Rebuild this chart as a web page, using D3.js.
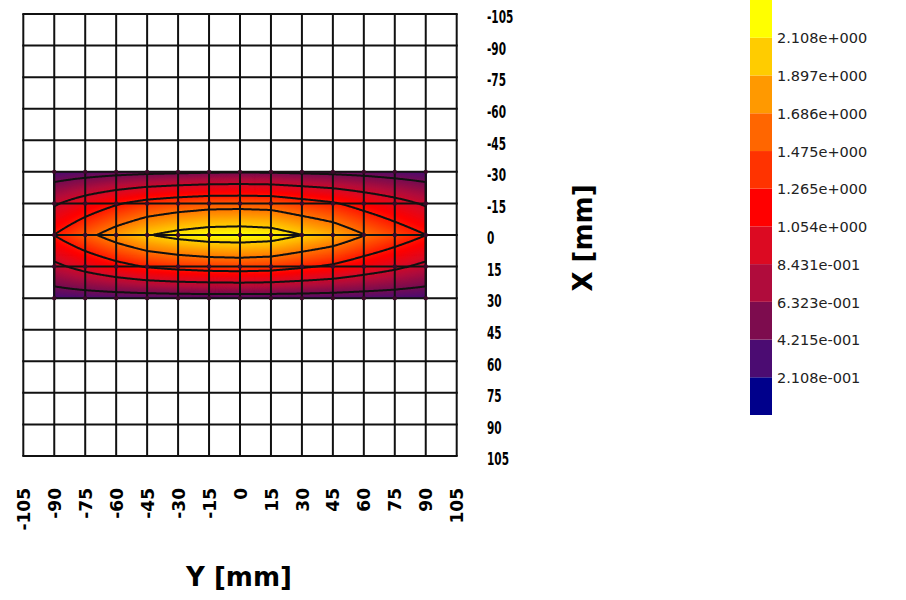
<!DOCTYPE html>
<html><head><meta charset="utf-8">
<script src="https://cdn.jsdelivr.net/npm/d3@7/dist/d3.min.js"></script>
<style>body{margin:0;background:#fff} svg{display:block}</style>
</head><body>
<svg id="chart" width="906" height="600"></svg>
<script>
// ---- data ----
const axisTicks = [-105,-90,-75,-60,-45,-30,-15,0,15,30,45,60,75,90,105];
const axisTickLabels = ["-105","-90","-75","-60","-45","-30","-15","0","15","30","45","60","75","90","105"];
const nodeY = [-90,-75,-60,-45,-30,-15,0,15,30,45,60,75,90];   // horizontal axis "Y [mm]"
const nodeX = [-30,-15,0,15,30];                                // vertical axis "X [mm]"
const rowXm30 = [0.24,0.28,0.32,0.35,0.37,0.39,0.40,0.39,0.37,0.35,0.32,0.28,0.24];
const rowXm15 = [0.80,1.03,1.23,1.39,1.48,1.54,1.55,1.53,1.41,1.30,1.13,0.97,0.80];
const rowX0   = [1.27,1.58,1.86,2.09,2.22,2.30,2.32,2.28,2.11,1.95,1.70,1.48,1.27];
const rowX15  = [0.76,0.96,1.14,1.29,1.37,1.42,1.44,1.41,1.31,1.21,1.05,0.91,0.76];
const rowX30  = [0.22,0.24,0.25,0.26,0.27,0.27,0.27,0.27,0.27,0.26,0.25,0.24,0.22];
const cbValues = [0.2108,0.4215,0.6323,0.8431,1.054,1.265,1.475,1.686,1.897,2.108];
const cbLabels = ["2.108e-001","4.215e-001","6.323e-001","8.431e-001","1.054e+000","1.265e+000","1.475e+000","1.686e+000","1.897e+000","2.108e+000"];
const cbMin = 0, cbMax = 2.319;
const cbColors = ["#00008b","#4b0c72","#7d0c4e","#b00c3c","#dc0a22","#ff0000","#ff3300","#ff6600","#ff9900","#ffcc00","#ffff00"];
const contourLevels = [0.4215,0.8431,1.265,1.686,2.108];

// ---- layout ----
const svg = d3.select("#chart");
const x = d3.scaleLinear().domain([-105,105]).range([23.3,456.7]);
const y = d3.scaleLinear().domain([-105,105]).range([14,456]);
const rows = [rowXm30,rowXm15,rowX0,rowX15,rowX30];

function field(Y, X){
  const dY = nodeY[1]-nodeY[0], dX = nodeX[1]-nodeX[0];
  let fi = (Y-nodeY[0])/dY, fj = (X-nodeX[0])/dX;
  let i = Math.max(0, Math.min(nodeY.length-2, Math.floor(fi)));
  let j = Math.max(0, Math.min(nodeX.length-2, Math.floor(fj)));
  const tx = fi-i, ty = fj-j;
  return rows[j][i]*(1-tx)*(1-ty) + rows[j][i+1]*tx*(1-ty) + rows[j+1][i]*(1-tx)*ty + rows[j+1][i+1]*tx*ty;
}

const x0 = x(nodeY[0]), x1 = x(nodeY[nodeY.length-1]);
const y0 = y(nodeX[0]), y1 = y(nodeX[nodeX.length-1]);
const nx = Math.round(x1-x0), ny = Math.round(y1-y0);
const grid = new Array(nx*ny);
for (let j=0;j<ny;j++){
  const X = y.invert(y0 + (j+0.5)*(y1-y0)/ny);
  for (let i=0;i<nx;i++){
    const Y = x.invert(x0 + (i+0.5)*(x1-x0)/nx);
    grid[j*nx+i] = field(Y, X);
  }
}
const proj = d3.geoPath(d3.geoTransform({point(px,py){
  this.stream.point(x0 + px*(x1-x0)/nx, y0 + py*(y1-y0)/ny);
}}));

const color = d3.scaleLinear()
  .domain(cbColors.map((c,k)=>cbMin + k*(cbMax-cbMin)/(cbColors.length-1)))
  .range(cbColors).clamp(true);

const bandStep = 0.012;
const bandThr = d3.range(-0.1, 2.5, bandStep);
svg.append("g").selectAll("path")
  .data(d3.contours().size([nx,ny]).thresholds(bandThr)(grid))
  .join("path")
  .attr("d", proj)
  .attr("fill", d=>color(d.value+bandStep/2))
  .attr("stroke", d=>color(d.value+bandStep/2))
  .attr("stroke-width", 0.4);

svg.append("g").selectAll("path")
  .data(d3.contours().size([nx,ny]).thresholds(contourLevels)(grid))
  .join("path")
  .attr("d", proj)
  .attr("fill","none").attr("stroke","#111").attr("stroke-width",2)
  .attr("stroke-linejoin","round");

// grid
const gg = svg.append("g").attr("stroke","#111").attr("stroke-width",2);
gg.selectAll("line.v").data(axisTicks).join("line")
  .attr("x1",d=>x(d)).attr("x2",d=>x(d)).attr("y1",y(-105)).attr("y2",y(105));
gg.selectAll("line.h").data(axisTicks).join("line")
  .attr("y1",d=>y(d)).attr("y2",d=>y(d)).attr("x1",x(-105)-1).attr("x2",x(105)+1);

// data nodes
const nodes = [];
nodeX.forEach(X=>nodeY.forEach(Y=>nodes.push([Y,X])));
svg.append("g").selectAll("circle").data(nodes).join("circle")
  .attr("cx",d=>x(d[0])).attr("cy",d=>y(d[1])).attr("r",2.2).attr("fill","#3a0a28");

// right axis (X)
const fmt = d=>axisTickLabels[axisTicks.indexOf(d)];
const ra = svg.append("g").attr("transform","translate(487,0)")
  .call(d3.axisRight(y).tickValues(axisTicks).tickFormat(fmt).tickSize(0).tickPadding(0));
ra.select(".domain").remove();
ra.selectAll("text").attr("x",0).attr("dy","0.52em").attr("transform","scale(0.62,1)")
  .style("font-family","DejaVu Sans").style("font-weight","bold").style("font-size","17px").attr("fill","#000");

// bottom axis (Y)
const ba = svg.append("g").attr("transform","translate(0,488)")
  .call(d3.axisBottom(x).tickValues(axisTicks).tickFormat(fmt).tickSize(0).tickPadding(0));
ba.select(".domain").remove();
ba.selectAll("text").attr("transform","rotate(-90)").attr("x",0).attr("y",0).attr("dy","0.36em")
  .attr("text-anchor","end")
  .style("font-family","DejaVu Sans").style("font-weight","bold").style("font-size","17px").attr("fill","#000");

// titles
svg.append("text").attr("x",239).attr("y",586).attr("text-anchor","middle")
  .style("font-family","DejaVu Sans").style("font-weight","bold").style("font-size","26px").text("Y [mm]");
svg.append("text").attr("transform","translate(592,238) rotate(-90)").attr("text-anchor","middle")
  .style("font-family","DejaVu Sans").style("font-weight","bold").style("font-size","26px").text("X [mm]");

// colorbar
const cb = d3.scaleLinear().domain([cbMin,cbMax]).range([415,0]);
const edges = [cbMin, ...cbValues, cbMax];
svg.append("g").selectAll("rect").data(cbColors).join("rect")
  .attr("x",750).attr("width",22)
  .attr("y",(c,k)=>cb(edges[k+1])).attr("height",(c,k)=>cb(edges[k])-cb(edges[k+1]))
  .attr("fill",c=>c);
const ca = svg.append("g").attr("transform","translate(777,0)")
  .call(d3.axisRight(cb).tickValues(cbValues).tickFormat(d=>cbLabels[cbValues.indexOf(d)]).tickSize(0).tickPadding(0));
ca.select(".domain").remove();
ca.selectAll("text").attr("x",0).attr("dy","0.36em")
  .style("font-family","DejaVu Sans").style("font-size","14.5px").attr("fill","#222");
</script>
</body></html>
